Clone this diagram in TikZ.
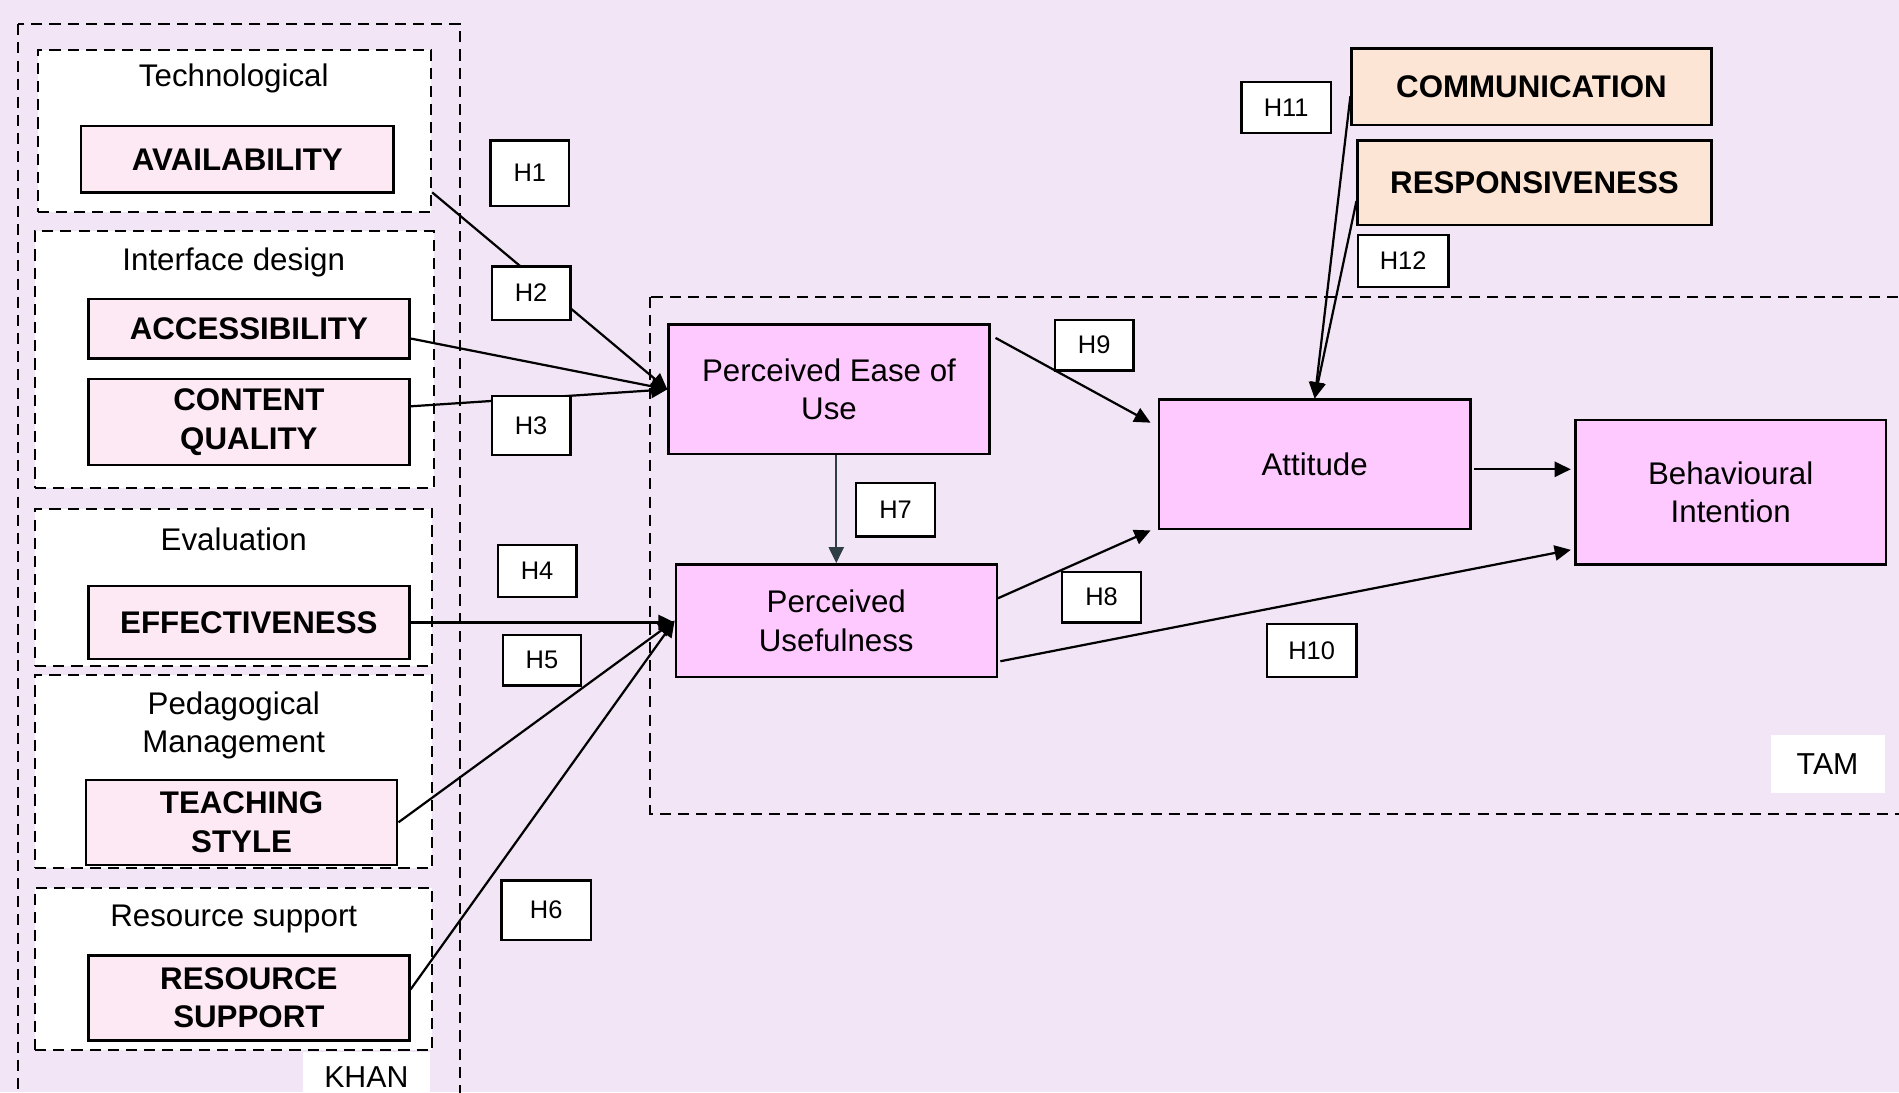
\documentclass[tikz,border=0pt]{standalone}
\usepackage{fontspec}
\setmainfont{Liberation Sans}
\usetikzlibrary{arrows.meta,calc}

\definecolor{bgcol}{HTML}{F1E5F6}
\definecolor{constr}{HTML}{FEC9FE}
\definecolor{factor}{HTML}{FDE9F4}
\definecolor{service}{HTML}{FCE5D5}
\definecolor{slate}{HTML}{2F3E46}

\tikzset{
  frame/.style={draw, line width=1pt, dash pattern=on 5.5pt off 3.5pt},
  grp/.style={frame, fill=white, inner sep=0pt},
  grplabel/.style={font=\fontsize{15.5}{19}\selectfont, align=center, inner sep=0pt},
  factorbox/.style={draw, line width=1.2pt, fill=factor, inner sep=0pt,
    font=\fontsize{15.5}{19}\selectfont\bfseries, align=center},
  servicebox/.style={factorbox, fill=service},
  construct/.style={draw, line width=1.2pt, fill=constr, inner sep=0pt,
    font=\fontsize{15.5}{19}\selectfont, align=center},
  hyp/.style={draw, line width=1.1pt, fill=white, inner sep=0pt,
    font=\fontsize{12.6}{15}\selectfont},
  tag/.style={fill=white, inner sep=0pt, font=\fontsize{15}{18}\selectfont},
  conn/.style={line width=1.1pt, -{Triangle[length=8pt, width=7.5pt]}},
}

\begin{document}
\begin{tikzpicture}[x=0.6pt, y=-0.6pt]
                \useasboundingbox (0,0) rectangle (1568,902);
                \clip (0,0) rectangle (1568,902);
                \fill[bgcol] (0,0) rectangle (1568,902);

                % outer frames
                \draw[frame] (15,20) rectangle (380,940);
                \draw[frame] (537,245) rectangle (1600,672);

                % KHAN dimensions
                \node[grp, minimum width=325*0.6pt, minimum height=134*0.6pt] (tech) at (193.5,108) {};
                \node[grp, minimum width=329*0.6pt, minimum height=212*0.6pt] (iface) at (193.5,297) {};
                \node[grp, minimum width=328*0.6pt, minimum height=130*0.6pt] (evalgrp) at (193,485) {};
                \node[grp, minimum width=328*0.6pt, minimum height=160*0.6pt] (peda) at (193,637) {};
                \node[grp, minimum width=328*0.6pt, minimum height=134*0.6pt] (resgrp) at (193,800) {};

                \node[grplabel] (techlbl) at (193,65) {Technological};
                \node[grplabel] (ifacelbl) at (193,217) {Interface design};
                \node[grplabel] (evallbl) at (193,445) {Evaluation};
                \node[grplabel] (pedalbl) at (193,599) {Pedagogical\\Management};
                \node[grplabel] (reslbl) at (193,759) {Resource support};

                \node[factorbox, minimum width=258*0.6pt, minimum height=55*0.6pt] (avail) at (196,131.5) {AVAILABILITY};
                \node[factorbox, minimum width=265*0.6pt, minimum height=49*0.6pt] (access) at (205.5,271.5) {ACCESSIBILITY};
                \node[factorbox, minimum width=265*0.6pt, minimum height=71*0.6pt] (content) at (205.5,348.5) {CONTENT\\QUALITY};
                \node[factorbox, minimum width=265*0.6pt, minimum height=60*0.6pt] (effect) at (205.5,514) {EFFECTIVENESS};
                \node[factorbox, minimum width=257*0.6pt, minimum height=70*0.6pt] (teach) at (199.5,679) {TEACHING\\STYLE};
                \node[factorbox, minimum width=265*0.6pt, minimum height=70*0.6pt] (resrc) at (205.5,824) {RESOURCE\\SUPPORT};

                % TAM constructs
                \node[construct, minimum width=265*0.6pt, minimum height=107*0.6pt] (peou) at (684.5,321.5) {Perceived Ease of\\Use};
                \node[construct, minimum width=265*0.6pt, minimum height=93*0.6pt] (pu) at (690.5,512.5) {Perceived\\Usefulness};
                \node[construct, minimum width=257*0.6pt, minimum height=107*0.6pt] (att) at (1085.5,383.5) {Attitude};
                \node[construct, minimum width=256*0.6pt, minimum height=119*0.6pt] (bi) at (1429,406.5) {Behavioural\\Intention};

                \node[servicebox, minimum width=297*0.6pt, minimum height=63*0.6pt] (comm) at (1264.5,71.5) {COMMUNICATION};
                \node[servicebox, minimum width=292*0.6pt, minimum height=70*0.6pt] (resp) at (1267,151) {RESPONSIVENESS};

                % paths
                \coordinate (availout) at ($(tech.south east)+(0,-17)$);
                \draw[conn] (availout) -- (peou.west);
                \draw[conn] ($(access.east)+(0,8)$) -- (peou.west);
                \draw[conn] ($(content.east)+(0,-13)$) -- (peou.west);
                \draw[conn] (effect.east) -- (effect.east -| pu.west);
                \draw[conn] (teach.east) -- (pu.west);
                \draw[conn] ($(resrc.east)+(0,-7)$) -- (pu.west);
                \draw[conn, slate] (peou.south -| pu.north) -- (pu.north);
                \draw[conn] ($(peou.north east)+(4,12)$) -- ($(att.north west)+(-6,20)$);
                \draw[conn] ($(pu.north east)+(0,29)$) -- ($(att.south west)+(-6,0)$);
                \draw[conn] ($(pu.south east)+(2,-14)$) -- ($(bi.south west)+(-3,-13)$);
                \draw[conn] ($(att.east)+(2,4)$) -- ($(bi.west |- att.east)+(-3,4)$);
                \draw[conn] ($(comm.west)+(0,8)$) -- (att.north);
                \draw[conn] ($(resp.west)+(0,15)$) -- (att.north);

                % hypotheses
                \node[hyp, minimum width=65*0.6pt, minimum height=54*0.6pt] (h1) at (437.5,143) {H1};
                \node[hyp, minimum width=65*0.6pt, minimum height=44*0.6pt] (h2) at (438.5,242) {H2};
                \node[hyp, minimum width=65*0.6pt, minimum height=49*0.6pt] (h3) at (438.5,351.5) {H3};
                \node[hyp, minimum width=65*0.6pt, minimum height=43*0.6pt] (h4) at (443.5,471.5) {H4};
                \node[hyp, minimum width=65*0.6pt, minimum height=42*0.6pt] (h5) at (447.5,545) {H5};
                \node[hyp, minimum width=74*0.6pt, minimum height=49*0.6pt] (h6) at (451,751.5) {H6};
                \node[hyp, minimum width=65*0.6pt, minimum height=44*0.6pt] (h7) at (739.5,421) {H7};
                \node[hyp, minimum width=65*0.6pt, minimum height=42*0.6pt] (h8) at (909.5,493) {H8};
                \node[hyp, minimum width=65*0.6pt, minimum height=42*0.6pt] (h9) at (903.5,285) {H9};
                \node[hyp, minimum width=74*0.6pt, minimum height=44*0.6pt] (h10) at (1083,537) {H10};
                \node[hyp, minimum width=74*0.6pt, minimum height=42*0.6pt] (h11) at (1062,89) {H11};
                \node[hyp, minimum width=75*0.6pt, minimum height=43*0.6pt] (h12) at (1158.5,215.5) {H12};

                \node[tag, minimum width=94*0.6pt, minimum height=48*0.6pt] (tam) at (1509,631) {TAM\hspace{6pt}};
                \node[tag, minimum width=105*0.6pt, minimum height=40*0.6pt] (khan) at (302.5,889) {KHAN};
\end{tikzpicture}
\end{document}
